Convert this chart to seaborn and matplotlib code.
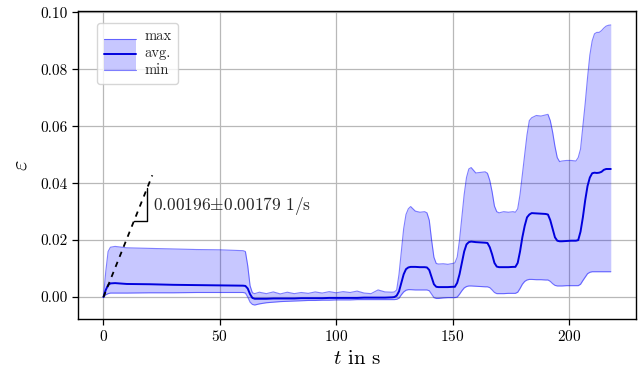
import matplotlib
matplotlib.use("Agg")
import matplotlib.pyplot as plt
import seaborn as sns
import pandas as pd
from matplotlib.legend_handler import HandlerBase
from matplotlib.patches import Rectangle
from matplotlib.lines import Line2D

# ---- data ----
t = [0, 1, 2, 3, 5, 10, 20, 30, 40, 50,
     60, 61, 62, 63, 64, 65, 67, 70, 73, 76,
     79, 82, 85, 88, 91, 94, 97, 100, 103, 106,
     109, 112, 115, 118, 121, 124, 125, 126, 127, 128,
     129, 130, 131, 132, 134, 136, 138, 139, 140, 141,
     142, 143, 144, 146, 148, 150, 151, 152, 153, 154,
     155, 156, 157, 158, 160, 162, 164, 165, 166, 167,
     168, 169, 170, 172, 174, 176, 177, 178, 179, 180,
     181, 182, 183, 184, 186, 188, 190, 191, 192, 193,
     194, 195, 196, 197, 199, 201, 203, 204, 205, 206,
     207, 208, 209, 210, 211, 212, 213, 214, 215, 216,
     217, 218]

eps_max = [0, 0.009, 0.016, 0.0175, 0.0178, 0.0173, 0.0171, 0.0169, 0.0167, 0.0166,
           0.0163, 0.0160, 0.011, 0.004, 0.0015, 0.0012, 0.0017, 0.0012, 0.0018, 0.0011,
           0.0017, 0.0012, 0.0016, 0.0013, 0.0018, 0.0014, 0.0019, 0.0015, 0.0019, 0.0016,
           0.0021, 0.0014, 0.0012, 0.0025, 0.0018, 0.0017, 0.0018, 0.0025, 0.008, 0.016,
           0.024, 0.029, 0.031, 0.0318, 0.0302, 0.0298, 0.0300, 0.0296, 0.027, 0.020,
           0.014, 0.0118, 0.0116, 0.0117, 0.0115, 0.0118, 0.0120, 0.014, 0.020, 0.028,
           0.036, 0.042, 0.045, 0.0455, 0.0436, 0.0438, 0.0440, 0.0435, 0.041, 0.037,
           0.032, 0.030, 0.0296, 0.0300, 0.0298, 0.0300, 0.0298, 0.031, 0.036, 0.043,
           0.050, 0.057, 0.062, 0.063, 0.0638, 0.0636, 0.0640, 0.0642, 0.062, 0.058,
           0.053, 0.049, 0.0476, 0.0478, 0.0480, 0.0480, 0.0478, 0.049, 0.052, 0.060,
           0.068, 0.077, 0.085, 0.090, 0.0925, 0.0930, 0.0930, 0.0936, 0.0945, 0.0952,
           0.0955, 0.0956]

eps_avg = [0, 0.0025, 0.0042, 0.0048, 0.0049, 0.0046, 0.0045, 0.0043, 0.0042, 0.0041,
           0.0040, 0.0039, 0.003, 0.001, -0.0003, -0.0006, -0.0006, -0.0006, -0.0005, -0.0005,
           -0.0005, -0.0005, -0.0004, -0.0004, -0.0004, -0.0004, -0.0003, -0.0003, -0.0003, -0.0003,
           -0.0003, -0.0002, -0.0002, -0.0002, -0.0002, -0.0001, 0.0, 0.0005, 0.002, 0.005,
           0.008, 0.0098, 0.0104, 0.0106, 0.0106, 0.0105, 0.0105, 0.0104, 0.0095, 0.007,
           0.0045, 0.0036, 0.0035, 0.0035, 0.0035, 0.0036, 0.0036, 0.005, 0.008, 0.012,
           0.016, 0.0185, 0.0193, 0.0195, 0.0193, 0.0192, 0.0191, 0.0190, 0.0175, 0.015,
           0.012, 0.0107, 0.0105, 0.0105, 0.0105, 0.0106, 0.0106, 0.012, 0.016, 0.021,
           0.025, 0.028, 0.029, 0.0295, 0.0294, 0.0293, 0.0292, 0.0290, 0.027, 0.024,
           0.021, 0.0198, 0.0196, 0.0196, 0.0197, 0.0198, 0.0198, 0.0200, 0.023, 0.028,
           0.034, 0.039, 0.042, 0.0435, 0.0437, 0.0436, 0.0437, 0.0440, 0.0447, 0.0450,
           0.0450, 0.0450]

eps_min = [0, 0.0008, 0.0012, 0.0014, 0.0014, 0.0014, 0.0015, 0.0015, 0.0016, 0.0016,
           0.0016, 0.0014, 0.0, -0.0018, -0.0026, -0.0028, -0.0024, -0.0020, -0.0018, -0.0016,
           -0.0015, -0.0014, -0.0013, -0.0012, -0.0012, -0.0011, -0.0011, -0.0010, -0.0010, -0.0010,
           -0.0009, -0.0009, -0.0009, -0.0009, -0.0009, -0.0009, -0.0009, -0.0008, -0.0004, 0.0008,
           0.0018, 0.0024, 0.0026, 0.0026, 0.0025, 0.0025, 0.0025, 0.0025, 0.0022, 0.0010,
           -0.0002, -0.0005, -0.0005, -0.0003, -0.0002, -0.0002, -0.0002, 0.0, 0.0010, 0.0022,
           0.0032, 0.0037, 0.0039, 0.0039, 0.0038, 0.0037, 0.0036, 0.0036, 0.0033, 0.0025,
           0.0016, 0.0012, 0.0012, 0.0012, 0.0013, 0.0013, 0.0013, 0.0017, 0.0030, 0.0045,
           0.0055, 0.0060, 0.0062, 0.0062, 0.0061, 0.0061, 0.0060, 0.0060, 0.0055, 0.0047,
           0.0041, 0.0039, 0.0039, 0.0039, 0.0040, 0.0040, 0.0040, 0.0040, 0.0045, 0.0058,
           0.0070, 0.0082, 0.0087, 0.0089, 0.0089, 0.0089, 0.0089, 0.0089, 0.0089, 0.0089,
           0.0089, 0.0089]

# fitted initial slope line and slope triangle
slope_t = [0, 21]
slope_eps = [0, 0.0428]
tri_t = [13, 18.5, 18.5]
tri_eps = [0.0267, 0.0267, 0.0382]
slope_label = r"$0.00196{\pm}0.00179\ 1/\mathrm{s}$"
legend_labels = ["max", "avg.", "min"]

assert len(t) == len(eps_max) == len(eps_avg) == len(eps_min)

df = pd.DataFrame({"t": t, "max": eps_max, "avg": eps_avg, "min": eps_min})

# ---- style ----
sns.set_theme(style="ticks")
plt.rcParams.update({
    "font.family": "serif",
    "font.serif": ["cmr10"],
    "mathtext.fontset": "cm",
    "axes.unicode_minus": False,
    "axes.formatter.use_mathtext": True,
})

fig = plt.figure(figsize=(6.4, 3.74), dpi=100)
ax = fig.add_axes([0.122, 0.147, 0.872, 0.8236])

ax.fill_between(df["t"], df["min"], df["max"], color="blue", alpha=0.22, lw=0)
sns.lineplot(data=df, x="t", y="max", ax=ax, color="blue", alpha=0.5, lw=0.8)
sns.lineplot(data=df, x="t", y="min", ax=ax, color="blue", alpha=0.5, lw=0.8)
sns.lineplot(data=df, x="t", y="avg", ax=ax, color="#0000dd", lw=1.4)

ax.plot(slope_t, slope_eps, color="black", ls=(0, (3, 3)), lw=1.3)
ax.plot(tri_t, tri_eps, color="black", lw=1.0)
ax.text(21.5, 0.032, slope_label, fontsize=12.5, va="center", ha="left")

ax.margins(x=0.05, y=0.05)
ax.set_yticks([0.0, 0.02, 0.04, 0.06, 0.08, 0.10])
ax.set_yticklabels(["0.00", "0.02", "0.04", "0.06", "0.08", "0.10"])
ax.set_xticks([0, 50, 100, 150, 200])
ax.grid(True, color="#b8b8b8", lw=0.9)
ax.set_axisbelow(True)
for s in ax.spines.values():
    s.set_color("black")
    s.set_linewidth(1.0)
ax.tick_params(axis="both", labelsize=11, length=4, width=0.9, color="black",
               labelcolor="black", direction="out")
ax.set_xlabel(r"$t$ in s", fontsize=15, color="black", labelpad=4)
ax.set_ylabel(r"$\varepsilon$", fontsize=16, color="black", labelpad=7)


class BandHandler(HandlerBase):
    def create_artists(self, legend, orig_handle, xdescent, ydescent,
                       width, height, fontsize, trans):
        x0, y0 = -xdescent, -ydescent
        rect = Rectangle((x0, y0), width, height, facecolor="blue", alpha=0.22,
                         lw=0, transform=trans)
        top = Line2D([x0, x0 + width], [y0 + height] * 2, color="blue", alpha=0.5,
                     lw=0.8, transform=trans)
        mid = Line2D([x0, x0 + width], [y0 + height / 2] * 2, color="#0000dd",
                     lw=1.4, transform=trans)
        bot = Line2D([x0, x0 + width], [y0] * 2, color="blue", alpha=0.5,
                     lw=0.8, transform=trans)
        return [rect, top, mid, bot]


band = Rectangle((0, 0), 1, 1)
leg = ax.legend([band], ["\n".join(legend_labels)], handler_map={Rectangle: BandHandler()},
                loc="upper left", bbox_to_anchor=(0.034, 0.961), borderaxespad=0,
                fontsize=10.5, handlelength=2.2, handleheight=2.9, handletextpad=0.6,
                borderpad=0.45,
                frameon=True, fancybox=True, framealpha=0.8, edgecolor="#cccccc")
for txt in leg.get_texts():
    txt.set_linespacing(1.3)

fig.savefig("out.png", dpi=100)
